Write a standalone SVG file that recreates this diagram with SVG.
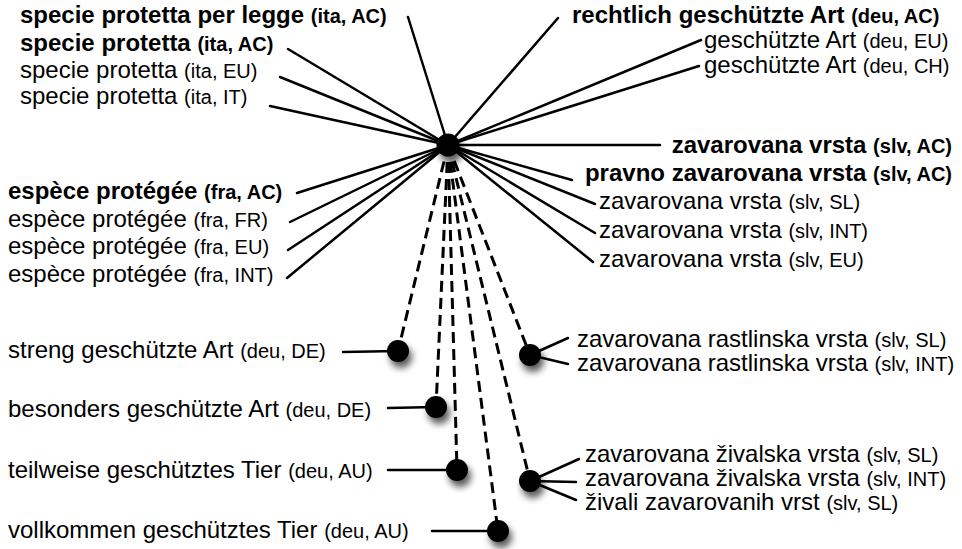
<svg xmlns="http://www.w3.org/2000/svg" width="962" height="549" viewBox="0 0 962 549">
  <style>
    text { font-family: "Liberation Sans", Arial, Helvetica, sans-serif; font-size: 24px; fill: #000; }
    .b { font-weight: bold; }
    .q { font-size: 20px; }
    .end { text-anchor: end; }
    .spoke { stroke: #000; stroke-width: 2.5; fill: none; stroke-linecap: round; }
    .dash { stroke: #000; stroke-width: 3; fill: none; stroke-dasharray: 11 6; }
    .dot { fill: #000; filter: url(#shadow); }
  </style>
  <defs>
    <filter id="shadow" x="-100%" y="-100%" width="300%" height="300%">
      <feDropShadow dx="3" dy="6" stdDeviation="3.5" flood-color="#000" flood-opacity="0.65"/>
    </filter>
  </defs>
  <rect width="962" height="549" fill="#fff"/>

  <!-- connectors -->
  <g id="connectors">
    <!-- solid spokes into the central hub -->
    <line class="spoke" x1="408" y1="17" x2="448" y2="145"/>
    <line class="spoke" x1="288" y1="49" x2="448" y2="145"/>
    <line class="spoke" x1="280" y1="77" x2="448" y2="145"/>
    <line class="spoke" x1="270" y1="106" x2="448" y2="145"/>
    <line class="spoke" x1="558" y1="18" x2="448" y2="145"/>
    <line class="spoke" x1="701" y1="40" x2="448" y2="145"/>
    <line class="spoke" x1="699" y1="66" x2="448" y2="145"/>
    <line class="spoke" x1="660" y1="145" x2="448" y2="145"/>
    <line class="spoke" x1="572" y1="180" x2="448" y2="145"/>
    <line class="spoke" x1="595" y1="204" x2="448" y2="145"/>
    <line class="spoke" x1="595" y1="233" x2="448" y2="145"/>
    <line class="spoke" x1="593" y1="262" x2="448" y2="145"/>
    <line class="spoke" x1="297" y1="193" x2="448" y2="145"/>
    <line class="spoke" x1="290" y1="222" x2="448" y2="145"/>
    <line class="spoke" x1="288" y1="250" x2="448" y2="145"/>
    <line class="spoke" x1="287" y1="278" x2="448" y2="145"/>
    <!-- dashed links from the hub to the narrower terms -->
    <line class="dash" x1="448" y1="145" x2="398" y2="351"/>
    <line class="dash" x1="448" y1="145" x2="436" y2="407"/>
    <line class="dash" x1="448" y1="145" x2="457" y2="470"/>
    <line class="dash" x1="448" y1="145" x2="498" y2="531"/>
    <line class="dash" x1="448" y1="145" x2="530" y2="355"/>
    <line class="dash" x1="448" y1="145" x2="530" y2="481"/>
    <!-- leaders from the small dots to their labels -->
    <line class="spoke" x1="343" y1="352" x2="398" y2="351"/>
    <line class="spoke" x1="388" y1="408" x2="436" y2="407"/>
    <line class="spoke" x1="388" y1="470" x2="457" y2="470"/>
    <line class="spoke" x1="432" y1="531" x2="498" y2="531"/>
    <line class="spoke" x1="530" y1="355" x2="568" y2="338"/>
    <line class="spoke" x1="530" y1="355" x2="568" y2="364"/>
    <line class="spoke" x1="530" y1="481" x2="579" y2="459"/>
    <line class="spoke" x1="530" y1="481" x2="576" y2="482"/>
    <line class="spoke" x1="530" y1="481" x2="576" y2="500"/>
  </g>

  <!-- dots -->
  <g id="hub"><circle class="dot" cx="448" cy="145" r="11.5"/></g>
  <g id="dot-streng"><circle class="dot" cx="398" cy="351" r="11"/></g>
  <g id="dot-besonders"><circle class="dot" cx="436" cy="407" r="11"/></g>
  <g id="dot-teilweise"><circle class="dot" cx="457" cy="470" r="11"/></g>
  <g id="dot-vollkommen"><circle class="dot" cx="498" cy="531" r="11"/></g>
  <g id="dot-rastlinska"><circle class="dot" cx="530" cy="355" r="11"/></g>
  <g id="dot-zivalska"><circle class="dot" cx="530" cy="481" r="11"/></g>

  <!-- Italian terms -->
  <g id="ita-ac-legge"><text class="b" x="20" y="23">specie protetta per legge <tspan class="q">(ita, AC)</tspan></text></g>
  <g id="ita-ac"><text class="b" x="20" y="51">specie protetta <tspan class="q">(ita, AC)</tspan></text></g>
  <g id="ita-eu"><text x="20" y="78">specie protetta <tspan class="q">(ita, EU)</tspan></text></g>
  <g id="ita-it"><text x="20" y="104">specie protetta <tspan class="q">(ita, IT)</tspan></text></g>

  <!-- German terms -->
  <g id="deu-ac"><text class="b" x="572" y="23">rechtlich geschützte Art <tspan class="q">(deu, AC)</tspan></text></g>
  <g id="deu-eu"><text x="704" y="48">geschützte Art <tspan class="q">(deu, EU)</tspan></text></g>
  <g id="deu-ch"><text x="704" y="73">geschützte Art <tspan class="q">(deu, CH)</tspan></text></g>

  <!-- Slovenian terms -->
  <g id="slv-ac"><text class="b end" x="952" y="153">zavarovana vrsta <tspan class="q">(slv, AC)</tspan></text></g>
  <g id="slv-ac-pravno"><text class="b end" x="952" y="181">pravno zavarovana vrsta <tspan class="q">(slv, AC)</tspan></text></g>
  <g id="slv-sl"><text x="599" y="209">zavarovana vrsta <tspan class="q">(slv, SL)</tspan></text></g>
  <g id="slv-int"><text x="599" y="238">zavarovana vrsta <tspan class="q">(slv, INT)</tspan></text></g>
  <g id="slv-eu"><text x="599" y="267">zavarovana vrsta <tspan class="q">(slv, EU)</tspan></text></g>

  <!-- French terms -->
  <g id="fra-ac"><text class="b" x="8" y="199">espèce protégée <tspan class="q">(fra, AC)</tspan></text></g>
  <g id="fra-fr"><text x="8" y="227">espèce protégée <tspan class="q">(fra, FR)</tspan></text></g>
  <g id="fra-eu"><text x="8" y="254">espèce protégée <tspan class="q">(fra, EU)</tspan></text></g>
  <g id="fra-int"><text x="8" y="282">espèce protégée <tspan class="q">(fra, INT)</tspan></text></g>

  <!-- narrower German terms -->
  <g id="deu-streng"><text x="8" y="358">streng geschützte Art <tspan class="q">(deu, DE)</tspan></text></g>
  <g id="deu-besonders"><text x="8" y="417">besonders geschützte Art <tspan class="q">(deu, DE)</tspan></text></g>
  <g id="deu-teilweise"><text x="8" y="478">teilweise geschütztes Tier <tspan class="q">(deu, AU)</tspan></text></g>
  <g id="deu-vollkommen"><text x="8" y="538">vollkommen geschütztes Tier <tspan class="q">(deu, AU)</tspan></text></g>

  <!-- narrower Slovenian terms -->
  <g id="slv-rast-sl"><text x="577" y="347">zavarovana rastlinska vrsta <tspan class="q">(slv, SL)</tspan></text></g>
  <g id="slv-rast-int"><text x="577" y="371">zavarovana rastlinska vrsta <tspan class="q">(slv, INT)</tspan></text></g>
  <g id="slv-ziv-sl"><text x="585" y="462">zavarovana živalska vrsta <tspan class="q">(slv, SL)</tspan></text></g>
  <g id="slv-ziv-int"><text x="585" y="486">zavarovana živalska vrsta <tspan class="q">(slv, INT)</tspan></text></g>
  <g id="slv-zivali"><text x="585" y="510">živali zavarovanih vrst <tspan class="q">(slv, SL)</tspan></text></g>
</svg>
